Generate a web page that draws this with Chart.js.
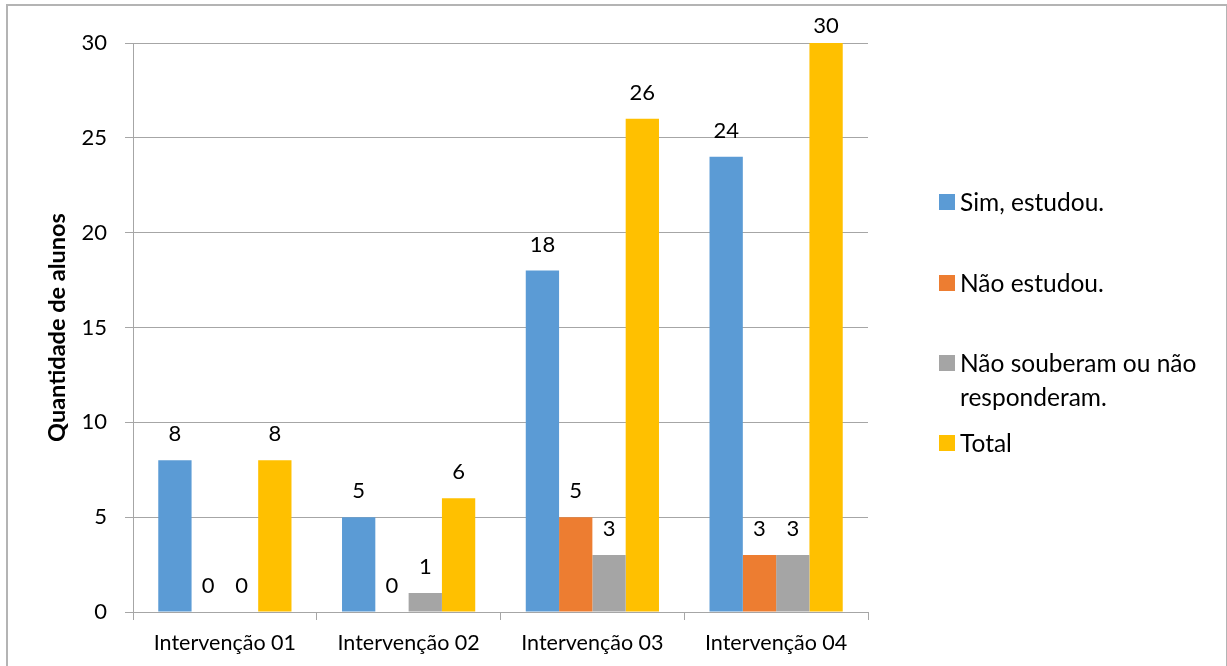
<!DOCTYPE html>
<html>
<head>
<meta charset="utf-8">
<script src="https://cdn.jsdelivr.net/npm/chart.js@4/dist/chart.umd.min.js"></script>
<style>
  html, body { margin: 0; padding: 0; background: #fff; }
  #wrap { position: relative; width: 1227px; height: 666px; overflow: hidden; }
  #frame { position: absolute; left: 6px; top: 4px; width: 1218px; height: 700px; border: 2px solid #b4b4b4; border-right-width: 1px; }
  canvas { position: absolute; left: 0; top: 0; }
  #legend { position: absolute; left: 939px; top: 185px; font-family: Lato, sans-serif; font-size: 24.5px; color: #000; }
  .item { position: absolute; left: 0; white-space: nowrap; line-height: 34px; }
  .box { position: absolute; left: 0; width: 16px; height: 16px; }
  .txt { position: absolute; left: 21px; }
</style>
</head>
<body>
<div id="wrap">
  <div id="frame"></div>
  <canvas id="chart" width="1227" height="666"></canvas>
  <div id="legend"></div>
</div>
<script>
const categories = ["Intervenção 01", "Intervenção 02", "Intervenção 03", "Intervenção 04"];
const seriesNames = ["Sim, estudou.", "Não estudou.", "Não souberam ou não responderam.", "Total"];
const simEstudou = [8, 5, 18, 24];
const naoEstudou = [0, 0, 5, 3];
const naoSouberam = [0, 1, 3, 3];
const total = [8, 6, 26, 30];
const colors = ["#5B9BD5", "#ED7D31", "#A5A5A5", "#FFC000"];
const yTicks = [0, 5, 10, 15, 20, 25, 30];

const font = "Lato";

// numbers above the bars (kept inside the top of the plot like Excel does)
const valueLabels = {
  id: "valueLabels",
  afterDatasetsDraw(chart) {
    const ctx = chart.ctx;
    const top = chart.chartArea.top;
    ctx.save();
    ctx.font = "22px " + font;
    ctx.fillStyle = "#000";
    ctx.textAlign = "center";
    ctx.textBaseline = "middle";
    chart.data.datasets.forEach((ds, i) => {
      chart.getDatasetMeta(i).data.forEach((bar, j) => {
        const y = Math.max(bar.y - 26, top - 17);
        ctx.fillText(String(ds.data[j]), bar.x, y);
      });
    });
    ctx.restore();
  },
};

const ctx = document.getElementById("chart").getContext("2d");
new Chart(ctx, {
  type: "bar",
  data: {
    labels: categories,
    datasets: [
      { label: seriesNames[0], data: simEstudou, backgroundColor: colors[0] },
      { label: seriesNames[1], data: naoEstudou, backgroundColor: colors[1] },
      { label: seriesNames[2], data: naoSouberam, backgroundColor: colors[2] },
      { label: seriesNames[3], data: total, backgroundColor: colors[3] },
    ],
  },
  options: {
    responsive: false,
    animation: false,
    categoryPercentage: 0.725,
    barPercentage: 1,
    layout: { padding: { top: 43, right: 359, bottom: 0, left: 0 } },
    plugins: {
      legend: { display: false },
      tooltip: { enabled: false },
    },
    scales: {
      x: {
        grid: { offset: true, drawOnChartArea: false, drawTicks: true, tickLength: 8, color: "#a6a6a6" },
        border: { color: "#a6a6a6", width: 1 },
        ticks: { color: "#000", font: { family: font, size: 21.5 }, padding: 10 },
        afterFit: (s) => { s.height = 54; },
      },
      y: {
        min: 0,
        max: 30,
        afterBuildTicks: (s) => { s.ticks = yTicks.map((v) => ({ value: v })); },
        grid: { color: "#a6a6a6", tickLength: 8 },
        border: { color: "#a6a6a6", width: 1 },
        ticks: { color: "#000", font: { family: font, size: 22 }, padding: 18 },
        title: {
          display: true,
          text: "Quantidade de alunos",
          color: "#000",
          font: { family: font, size: 23.5, weight: "bold" },
          padding: { top: 43, bottom: 0 },
        },
        afterFit: (s) => { s.width = 133; },
      },
    },
  },
  plugins: [valueLabels],
});

// legend on the right, built from the series names
const legendTops = [0, 81, 161, 241];
const legendEl = document.getElementById("legend");
seriesNames.forEach((name, i) => {
  const item = document.createElement("div");
  item.className = "item";
  item.style.top = legendTops[i] + "px";
  const box = document.createElement("div");
  box.className = "box";
  box.style.background = colors[i];
  box.style.top = "9px";
  const txt = document.createElement("div");
  txt.className = "txt";
  txt.textContent = i === 2 ? "Não souberam ou não" : name;
  if (i === 2) {
    txt.appendChild(document.createElement("br"));
    txt.appendChild(document.createTextNode("responderam."));
  }
  item.appendChild(box);
  item.appendChild(txt);
  legendEl.appendChild(item);
});
</script>
</body>
</html>
